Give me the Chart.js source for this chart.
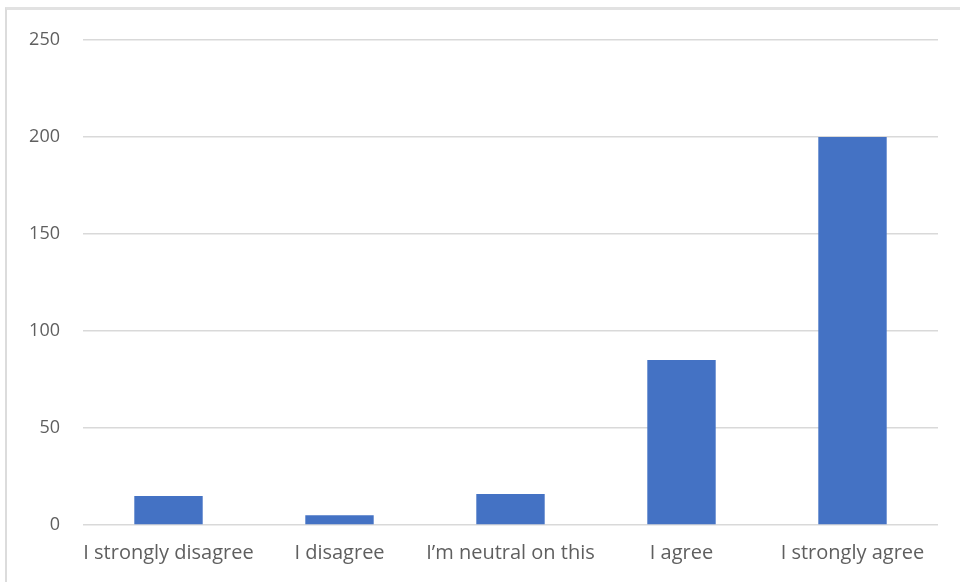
<!DOCTYPE html>
<html>
<head>
<meta charset="utf-8">
<script src="https://cdn.jsdelivr.net/npm/chart.js@4.4.1/dist/chart.umd.min.js"></script>
<style>
  html, body { margin: 0; padding: 0; background: #fff; }
  #wrap { position: relative; width: 960px; height: 582px; }
  #frame {
    position: absolute; left: 5px; top: 7px; right: 0; bottom: 0;
    border-top: 3px solid #e2e2e2; border-left: 2px solid #dcdcdc;
    pointer-events: none;
  }
</style>
</head>
<body>
<div id="wrap">
  <canvas id="chart" width="960" height="582"></canvas>
  <div id="frame"></div>
</div>
<script>
const categories = ['I strongly disagree', 'I disagree', 'I\u2019m neutral on this', 'I agree', 'I strongly agree'];
const responses = [15, 5, 16, 85, 200];
const yTicks = [0, 50, 100, 150, 200, 250];

document.addEventListener('DOMContentLoaded', function () {
    const ctx = document.getElementById('chart').getContext('2d');

    new Chart(ctx, {
        type: 'bar',
        data: {
            labels: categories,
            datasets: [{
                data: responses,
                backgroundColor: '#4472c4',
                barPercentage: 0.4,
                categoryPercentage: 1
            }]
        },
        options: {
            responsive: false,
            animation: false,
            layout: { padding: { top: 40, right: 22, left: 0, bottom: 0 } },
            plugins: {
                legend: { display: false },
                tooltip: { enabled: false }
            },
            scales: {
                x: {
                    grid: { display: false, drawTicks: false },
                    border: { display: false },
                    ticks: {
                        color: '#5f5f5f',
                        font: { family: '"Open Sans", sans-serif', size: 20 },
                        padding: 16,
                        autoSkip: false,
                        maxRotation: 0
                    },
                    afterFit: function (scale) { scale.height = 57; }
                },
                y: {
                    min: yTicks[0],
                    max: yTicks[yTicks.length - 1],
                    afterBuildTicks: function (scale) {
                        scale.ticks = yTicks.map(v => ({ value: v }));
                    },
                    grid: { color: '#d9d9d9', lineWidth: 1.5, drawTicks: false },
                    border: { display: false },
                    ticks: {
                        color: '#5f5f5f',
                        font: { family: '"Open Sans", sans-serif', size: 18 },
                        padding: 23
                    },
                    afterFit: function (scale) { scale.width = 83; }
                }
            }
        }
    });
});
</script>
</body>
</html>
